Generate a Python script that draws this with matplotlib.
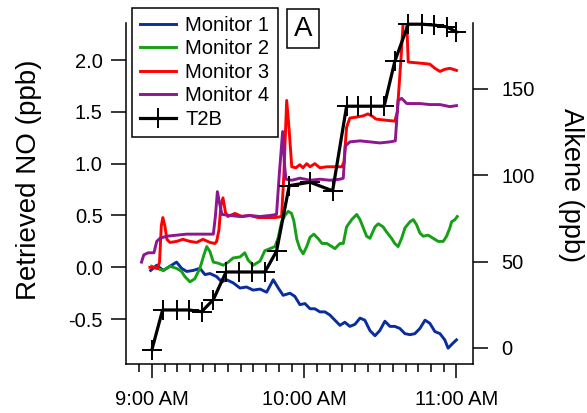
import matplotlib
matplotlib.use('Agg')
import matplotlib.pyplot as plt
from matplotlib.ticker import FixedLocator

plt.rcParams['font.family'] = ['Liberation Sans', 'DejaVu Sans']

# time axis in minutes after 9:00 AM
tick_minutes = [0, 60, 120]
tick_labels = ['9:00 AM', '10:00 AM', '11:00 AM']

# Monitor 1 (retrieved NO, ppb)
m1_t = [-0.5, 1.9, 4.5, 7.1, 9.7, 11.7, 13.7, 16.3, 18.9, 20.9, 22.9, 25.5, 27.5, 29.4, 32.0,
        34.7, 37.3, 39.9, 42.6, 45.2, 47.8, 49.8, 51.7, 54.4, 56.3, 58.3, 60.3, 62.3, 64.2, 66.2,
        68.2, 70.1, 72.1, 74.1, 76.0, 78.0, 80.0, 82.0, 83.9, 85.9, 87.9, 89.8, 91.8, 93.8, 95.7,
        97.7, 99.7, 101.7, 103.6, 105.6, 107.6, 109.5, 111.5, 113.5, 115.4, 116.7, 118.7, 120.0]
m1_v = [-0.03, 0.02, -0.03, 0.01, 0.05, -0.01, -0.04, -0.03, -0.01, -0.07, -0.06, -0.09, -0.14, -0.12, -0.15,
        -0.20, -0.19, -0.22, -0.21, -0.24, -0.12, -0.20, -0.27, -0.25, -0.28, -0.36, -0.35, -0.40, -0.40, -0.43,
        -0.43, -0.46, -0.51, -0.56, -0.53, -0.57, -0.55, -0.49, -0.51, -0.61, -0.66, -0.61, -0.52, -0.57, -0.57,
        -0.59, -0.64, -0.65, -0.64, -0.59, -0.51, -0.54, -0.62, -0.64, -0.70, -0.78, -0.73, -0.70]

# Monitor 2
m2_t = [-0.1, 1.9, 4.5, 7.1, 9.7, 11.7, 13.0, 15.0, 16.9, 18.9, 20.5, 21.6, 22.9, 24.2, 26.1,
        28.1, 30.1, 32.0, 34.7, 36.6, 37.9, 39.9, 42.6, 44.5, 46.5, 48.5, 49.8, 51.1, 52.4, 53.7,
        55.0, 55.9, 57.1, 58.3, 59.6, 61.0, 62.3, 63.8, 65.4, 67.0, 68.9, 70.9, 72.1, 74.1, 75.4,
        76.7, 78.7, 80.7, 82.0, 83.3, 84.6, 85.9, 87.9, 89.2, 91.1, 92.5, 94.4, 95.7, 97.0, 98.4,
        99.7, 101.7, 103.0, 104.3, 105.6, 106.9, 108.9, 110.8, 112.8, 114.8, 116.1, 117.4, 118.1, 119.4, 120.3]
m2_v = [0.01, -0.01, -0.03, 0.01, -0.01, -0.04, -0.09, -0.14, -0.11, -0.01, 0.12, 0.20, 0.15, 0.05, 0.04,
        0.02, 0.05, 0.09, 0.10, 0.14, 0.07, 0.02, 0.06, 0.16, 0.18, 0.20, 0.29, 0.44, 0.50, 0.54,
        0.52, 0.45, 0.27, 0.18, 0.13, 0.20, 0.29, 0.32, 0.28, 0.23, 0.23, 0.20, 0.18, 0.23, 0.23,
        0.39, 0.46, 0.51, 0.46, 0.38, 0.30, 0.28, 0.39, 0.42, 0.39, 0.34, 0.28, 0.23, 0.20, 0.28,
        0.38, 0.44, 0.46, 0.41, 0.33, 0.30, 0.31, 0.28, 0.25, 0.25, 0.30, 0.38, 0.44, 0.46, 0.49]

# Monitor 3
m3_t = [-0.8, 0.4, 2.2, 3.0, 3.7, 4.3, 5.1, 5.9, 7.1, 9.7, 12.2, 15.0, 17.6, 20.1, 22.9,
        24.8, 25.5, 26.4, 27.2, 28.0, 29.0, 29.9, 32.7, 35.5, 38.6, 41.8, 44.9, 48.5, 51.1, 52.0,
        53.1, 54.0, 55.1, 56.7, 58.3, 59.5, 61.0, 62.3, 64.2, 66.2, 68.9, 72.1, 74.9, 75.7, 76.7,
        78.0, 80.7, 83.1, 85.1, 86.7, 88.3, 91.8, 95.7, 96.7, 98.1, 99.0, 100.4, 101.0, 105.6, 109.5,
        111.5, 113.5, 115.4, 117.4, 120.0]
m3_v = [0.0, 0.0, -0.01, 0.05, 0.40, 0.48, 0.40, 0.27, 0.24, 0.25, 0.27, 0.25, 0.24, 0.27, 0.24,
        0.23, 0.25, 0.36, 0.60, 0.67, 0.53, 0.49, 0.52, 0.49, 0.50, 0.48, 0.48, 0.48, 0.49, 0.90,
        1.61, 1.35, 0.97, 0.96, 0.99, 0.96, 1.00, 0.97, 1.00, 0.96, 0.97, 0.97, 0.97, 1.02, 1.35,
        1.44, 1.45, 1.46, 1.48, 1.46, 1.43, 1.42, 1.41, 1.50, 2.00, 2.36, 2.36, 1.98, 1.97, 1.96,
        1.92, 1.89, 1.91, 1.92, 1.90]

# Monitor 4
m4_t = [-4.1, -3.2, -1.5, 0.8, 1.9, 3.2, 5.8, 9.7, 13.7, 18.9, 24.2, 25.0, 25.8, 26.8, 27.6,
        30.7, 34.7, 38.6, 42.6, 46.5, 49.1, 50.2, 51.5, 52.2, 52.8, 55.2, 58.3, 62.3, 66.2, 70.1,
        74.1, 75.4, 76.2, 78.0, 82.0, 85.9, 89.8, 93.8, 95.9, 97.0, 98.4, 100.4, 105.6, 109.5, 113.5,
        117.4, 120.0]
m4_v = [0.05, 0.12, 0.14, 0.14, 0.25, 0.28, 0.30, 0.31, 0.32, 0.32, 0.32, 0.49, 0.73, 0.60, 0.51,
        0.50, 0.49, 0.50, 0.49, 0.50, 0.51, 0.90, 1.31, 1.00, 0.85, 0.84, 0.86, 0.84, 0.85, 0.84,
        0.85, 0.86, 1.17, 1.21, 1.22, 1.21, 1.20, 1.21, 1.22, 1.61, 1.63, 1.58, 1.58, 1.57, 1.57,
        1.55, 1.56]

# T2B alkene reference (ppb, right axis)
t2b_t = [0.0, 4.2, 9.7, 14.6, 19.6, 24.2, 29.2, 34.4, 39.5, 44.5, 49.1, 54.1,
         62.3, 71.2, 76.7, 81.3, 86.3, 91.5, 95.7, 101.0, 106.3, 111.2, 116.1, 120.0]
t2b_v = [-1, 22, 22, 22, 21, 28, 44, 44, 44, 44, 56, 94,
         96, 91, 140, 140, 140, 140, 166, 187.5, 187.5, 187, 186, 183]

fig = plt.figure(figsize=(5.87, 4.13), dpi=100)
ax = fig.add_axes([0.2147, 0.1186, 0.5906, 0.8257])
ax2 = ax.twinx()

lw = 2.1
ax.plot(m1_t, m1_v, color='#0a2d9e', lw=lw, label='Monitor 1')
ax.plot(m2_t, m2_v, color='#16a016', lw=lw, label='Monitor 2')
ax.plot(m3_t, m3_v, color='#ff0000', lw=lw, label='Monitor 3')
ax.plot(m4_t, m4_v, color='#8e168e', lw=lw, label='Monitor 4')
ax2.plot(t2b_t, t2b_v, color='black', lw=2.3, marker='+', markersize=14,
         markeredgewidth=1.4, label='T2B', clip_on=False)

ax.set_xlim(-10.2, 126.4)
ax.set_ylim(-0.933, 2.357)
ax2.set_ylim(-9.3, 188.2)

ax.set_yticks([-0.5, 0.0, 0.5, 1.0, 1.5, 2.0])
ax.set_yticklabels(['-0.5', '0.0', '0.5', '1.0', '1.5', '2.0'])
ax2.set_yticks([0, 50, 100, 150])

ax.set_xticks(tick_minutes)
ax.set_xticklabels(tick_labels)
ax.xaxis.set_minor_locator(FixedLocator([m for m in range(-5, 121, 5) if m % 60 != 0]))

for a in (ax, ax2):
    a.spines['top'].set_visible(False)
    for s in a.spines.values():
        s.set_linewidth(1.1)
ax.spines['right'].set_visible(False)
ax2.spines['left'].set_visible(False)
ax2.spines['bottom'].set_visible(False)

ax.tick_params(axis='y', direction='out', length=10.8, width=1.1, labelsize=14.5, pad=6)
ax.tick_params(axis='x', which='major', direction='out', length=10, width=1.1, labelsize=14.5, pad=9)
ax.tick_params(axis='x', which='minor', direction='out', length=5.8, width=1.1)
ax2.tick_params(axis='y', direction='out', length=10.8, width=1.1, labelsize=14.5, pad=10)

ax.set_ylabel('Retrieved NO (ppb)', fontsize=20, ha='center', va='center')
ax.yaxis.set_label_coords(-0.28, 0.54)
ax2.set_ylabel('Alkene (ppb)', fontsize=19.5, rotation=-90, ha='center', va='center')
ax2.yaxis.set_label_coords(1.284, 0.525)

h1, l1 = ax.get_legend_handles_labels()
h2, l2 = ax2.get_legend_handles_labels()
leg = ax2.legend(h1 + h2, l1 + l2, loc='upper left', bbox_to_anchor=(132 / 587, 1 - 8 / 413),
                 bbox_transform=fig.transFigure, fontsize=14.5, fancybox=False, framealpha=1,
                 edgecolor='black', borderpad=0.4, labelspacing=0.22, handlelength=1.8,
                 handletextpad=0.45, borderaxespad=0)
leg.get_frame().set_linewidth(1.1)

fig.text(303 / 587, 1 - 28.5 / 413, 'A', fontsize=20, ha='center', va='center',
         bbox=dict(boxstyle='square,pad=0.25', fc='white', ec='black', lw=1.1))

fig.savefig('out.png', dpi=100)
